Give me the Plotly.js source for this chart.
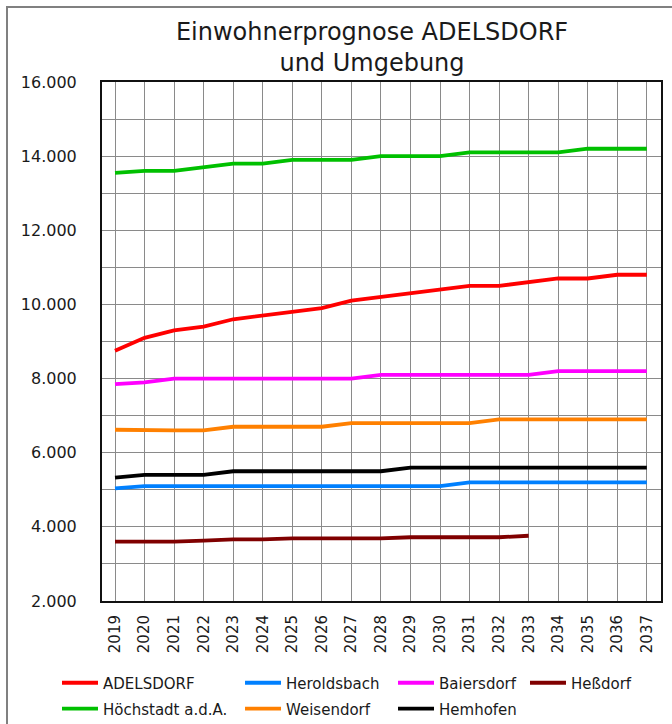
<!DOCTYPE html>
<html>
<head>
<meta charset="utf-8">
<script src="https://cdn.plot.ly/plotly-3.0.1.min.js"></script>
<style>
  html, body { margin: 0; padding: 0; background: #fff; }
  #chart { width: 672px; height: 724px; }
</style>
</head>
<body>
<div id="chart"></div>
<script>
// ---- Data ----
const years = ["2019","2020","2021","2022","2023","2024","2025","2026","2027","2028",
               "2029","2030","2031","2032","2033","2034","2035","2036","2037"];
const seriesNames = ["ADELSDORF","Heroldsbach","Baiersdorf","Heßdorf","Höchstadt a.d.A.","Weisendorf","Hemhofen"];
const adelsdorf   = [8750, 9100, 9300, 9400, 9600, 9700, 9800, 9900, 10100, 10200, 10300, 10400, 10500, 10500, 10600, 10700, 10700, 10800, 10800];
const heroldsbach = [5040, 5100, 5100, 5100, 5100, 5100, 5100, 5100, 5100, 5100, 5100, 5100, 5200, 5200, 5200, 5200, 5200, 5200, 5200];
const baiersdorf  = [7850, 7900, 8000, 8000, 8000, 8000, 8000, 8000, 8000, 8100, 8100, 8100, 8100, 8100, 8100, 8200, 8200, 8200, 8200];
const hessdorf    = [3600, 3600, 3600, 3630, 3660, 3660, 3690, 3690, 3690, 3690, 3720, 3720, 3720, 3720, 3760];
const hoechstadt  = [13550, 13600, 13600, 13700, 13800, 13800, 13900, 13900, 13900, 14000, 14000, 14000, 14100, 14100, 14100, 14100, 14200, 14200, 14200];
const weisendorf  = [6620, 6600, 6600, 6600, 6700, 6700, 6700, 6700, 6800, 6800, 6800, 6800, 6800, 6900, 6900, 6900, 6900, 6900, 6900];
const hemhofen    = [5330, 5400, 5400, 5400, 5500, 5500, 5500, 5500, 5500, 5500, 5600, 5600, 5600, 5600, 5600, 5600, 5600, 5600, 5600];

const seriesValues = [adelsdorf, heroldsbach, baiersdorf, hessdorf, hoechstadt, weisendorf, hemhofen];
const seriesColors = ["#ff0000", "#0080ff", "#ff00ff", "#800000", "#00c000", "#ff8000", "#000000"];

// legend placement (one legend per entry, Excel-like columns)
const legendX = [-0.0805, 0.2469, 0.5206, 0.7567, -0.0805, 0.2469, 0.5206];
const legendY = [-0.158, -0.158, -0.158, -0.158, -0.208, -0.208, -0.208];

const FONT = "DejaVu Sans, Liberation Sans, sans-serif";

const traces = seriesNames.map((name, i) => ({
  type: "scatter",
  mode: "lines",
  name: name,
  x: years.slice(0, seriesValues[i].length),
  y: seriesValues[i],
  line: { color: seriesColors[i], width: 3.8 },
  legend: i === 0 ? "legend" : "legend" + (i + 1),
  showlegend: true,
  hoverinfo: "x+y+name"
}));

const layout = {
  width: 672,
  height: 724,
  showlegend: true,
  paper_bgcolor: "#ffffff",
  plot_bgcolor: "#ffffff",
  separators: ",.",
  margin: { l: 102, r: 11, t: 82, b: 123, autoexpand: false },
  title: {
    text: "Einwohnerprognose ADELSDORF<br>und Umgebung",
    font: { family: FONT, size: 24, color: "#1a1a1a" },
    x: 372 / 672, xanchor: "center", xref: "container",
    y: 1 - 40 / 724, yanchor: "top", yref: "container"
  },
  xaxis: {
    type: "category",
    range: [-0.44, 18.48],
    showgrid: true,
    gridcolor: "#8a8a8a",
    gridwidth: 1,
    ticks: "",
    tickangle: -90,
    tickfont: { family: FONT, size: 15, color: "#1a1a1a" },
    ticklabelstandoff: 6,
    showline: true,
    linecolor: "#111",
    linewidth: 2,
    mirror: true,
    zeroline: false,
    fixedrange: true
  },
  yaxis: {
    range: [2000, 16000],
    dtick: 2000,
    tick0: 2000,
    tickformat: ",d",
    showgrid: true,
    gridcolor: "#8a8a8a",
    gridwidth: 1,
    minor: { dtick: 1000, showgrid: true, gridcolor: "#8a8a8a", gridwidth: 1, ticks: "" },
    ticks: "",
    tickfont: { family: FONT, size: 16, color: "#1a1a1a" },
    ticklabelstandoff: 20,
    showline: true,
    linecolor: "#111",
    linewidth: 2,
    mirror: true,
    zeroline: false,
    fixedrange: true
  },
  shapes: [{
    type: "rect", xref: "paper", yref: "paper",
    x0: (7 - 102) / 559, x1: (690 - 102) / 559,
    y0: (601 - 740) / 519, y1: (601 - 7) / 519,
    line: { color: "#808080", width: 2 },
    fillcolor: "rgba(0,0,0,0)",
    layer: "below"
  }]
};

seriesNames.forEach((n, i) => {
  const key = i === 0 ? "legend" : "legend" + (i + 1);
  layout[key] = {
    visible: true,
    x: legendX[i], xanchor: "left", xref: "paper",
    y: legendY[i], yanchor: "middle", yref: "paper",
    orientation: "v",
    bgcolor: "rgba(0,0,0,0)",
    borderwidth: 0,
    itemwidth: 36,
    font: { family: FONT, size: 15, color: "#1a1a1a" }
  };
});

Plotly.newPlot("chart", traces, layout, { displayModeBar: false, responsive: false });
</script>
</body>
</html>
